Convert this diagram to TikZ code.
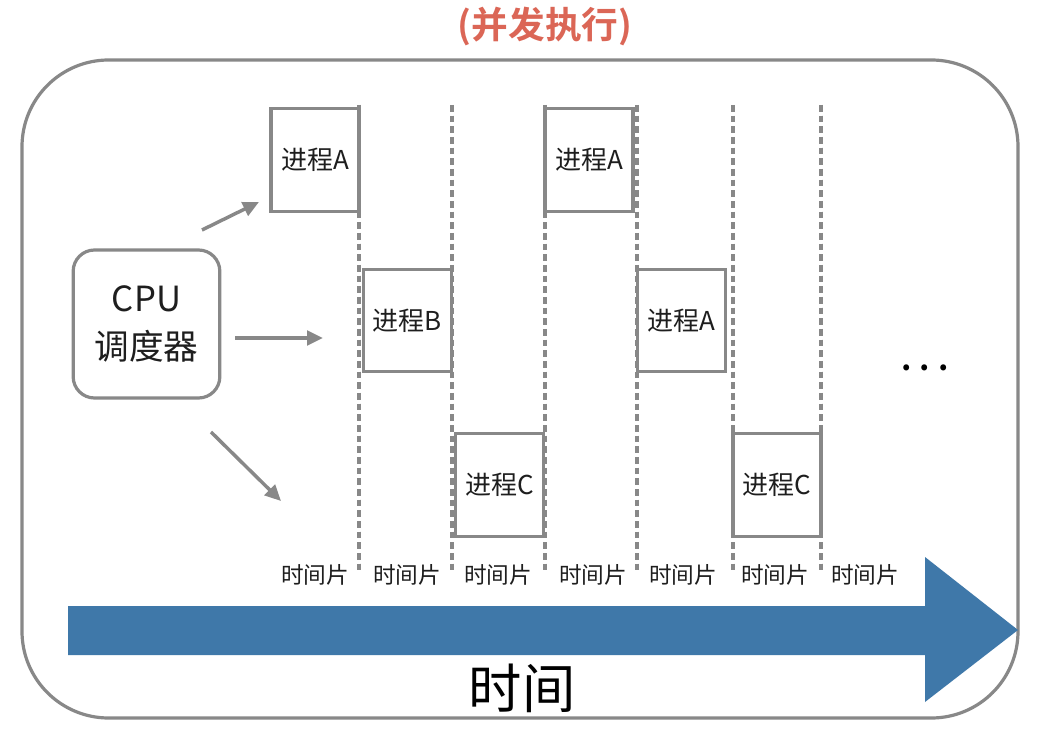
\documentclass[tikz,border=0pt]{standalone}
\usepackage{fontspec}
\setmainfont{Noto Sans CJK SC}
\newfontfamily\cjkbold{Noto Sans CJK SC Bold}
\usetikzlibrary{arrows.meta}
\definecolor{linegray}{HTML}{888888}
\definecolor{titlered}{HTML}{DB6656}
\definecolor{arrowblue}{HTML}{3F78A9}
\definecolor{txt}{HTML}{1E1E1E}
\tikzset{
  procbox/.style={draw=linegray, line width=2.4pt, minimum width=66pt, minimum height=77pt, inner sep=0pt, text=txt, font=\fontsize{19.5}{22}\selectfont},
  slicelabel/.style={text=txt, font=\fontsize{17}{19}\selectfont, inner sep=0pt},
  dashline/.style={draw=linegray, line width=2.4pt, dash pattern=on 5pt off 3pt},
  schedarrow/.style={draw=linegray, line width=2.6pt, -{Triangle[length=12pt,width=11pt]}},
}
\begin{document}
\begin{tikzpicture}[x=0.75pt,y=-0.75pt]
\useasboundingbox (0,0) rectangle (1058,731);
\fill[white] (0,0) rectangle (1058,731);
% outer frame
\draw[linegray, line width=2.4pt, rounded corners=65pt] (22,60) rectangle (1018,718);
% title
\node[text=titlered, font=\cjkbold\fontsize{27.5}{30}\selectfont] (title) at (545,26) {(并发执行)};
% dashed lines
\foreach \x/\n in {359/d1,452/d2,545/d3,637/d4,733/d5,821/d6}{
  \coordinate (\n t) at (\x,105);
  \coordinate (\n b) at (\x,572);
  \draw[dashline] (\n t) -- (\n b);
}
% process boxes
\node[procbox, fill=white] (a1) at (315,160) {进程A};
\node[procbox, fill=white] (b1) at (407.5,320.5) {进程B};
\node[procbox, fill=white] (c1) at (499.5,485) {进程C};
\node[procbox, fill=white] (a2) at (589,160) {进程A};
\node[procbox, fill=white] (a3) at (681.5,320.5) {进程A};
\node[procbox, fill=white] (c2) at (777,485) {进程C};
% dashes coinciding with box right edges
\draw[dashline] (d1t) -- (d1b);
\draw[dashline] (d6t) -- (d6b);
% CPU box
\node[draw=linegray, line width=2.4pt, rounded corners=16pt, minimum width=110pt, minimum height=111pt, align=center, text=txt, font=\fontsize{26}{36}\selectfont] (cpu) at (146.5,324) {CPU\\调度器};
% scheduler arrows
\coordinate (u1) at (202,230); \coordinate (u2) at (259,202);
\coordinate (m1) at (235,338); \coordinate (m2) at (323,338);
\coordinate (l1) at (211,432); \coordinate (l2) at (281,501);
\draw[schedarrow] (u1) -- (u2);
\draw[schedarrow] (m1) -- (m2);
\draw[schedarrow] (l1) -- (l2);
% ellipsis
\node[text=black, anchor=base, inner sep=0pt, font=\cjkbold\fontsize{24}{26}\selectfont] (dots) at (925,371) {.\hspace{6pt}.\hspace{6pt}.};
% time slice labels
\foreach \x/\n in {315/s1,407/s2,498/s3,593/s4,683/s5,775/s6,865/s7}{
  \node[slicelabel] (\n) at (\x,575) {时间片};
}
% big time arrow
\fill[arrowblue] (68,606) -- (925,606) -- (925,557) -- (1018,630) -- (925,702) -- (925,655) -- (68,655) -- cycle;
\node[text=black, font=\fontsize{40}{44}\selectfont] (timelabel) at (522,688) {时间};
\end{tikzpicture}
\end{document}
